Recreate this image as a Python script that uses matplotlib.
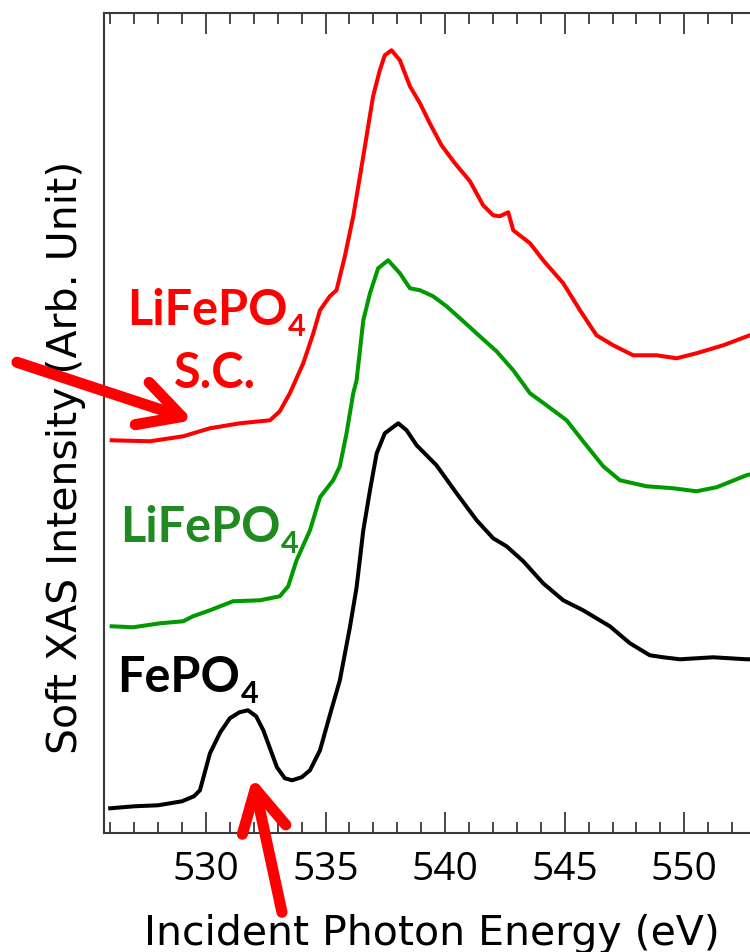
import matplotlib

matplotlib.use("Agg")
import matplotlib.pyplot as plt
from matplotlib.ticker import MultipleLocator, NullLocator

# O K-edge soft XAS (arbitrary units, offset per curve)
energy_fepo4 = [526.0, 527.0, 528.0, 529.0, 529.5, 529.75, 530.17, 530.6, 531.0, 531.4,
                531.76, 532.1, 532.4, 532.97, 533.3, 533.6, 534.0, 534.35, 534.77, 535.18,
                535.6, 536.02, 536.3, 536.58, 536.86, 537.14, 537.48, 538.04, 538.39, 538.81,
                539.64, 540.48, 541.32, 542.01, 542.57, 543.27, 544.1, 544.94, 545.77, 546.89,
                547.73, 548.56, 549.12, 549.82, 551.21, 552.6, 553.5]
intensity_fepo4 = [0.25, 0.27, 0.28, 0.32, 0.37, 0.43, 0.80, 1.01, 1.15, 1.21,
                   1.23, 1.17, 1.03, 0.66, 0.55, 0.53, 0.56, 0.63, 0.83, 1.18,
                   1.53, 2.06, 2.46, 3.03, 3.43, 3.80, 4.00, 4.10, 4.03, 3.88,
                   3.68, 3.40, 3.13, 2.95, 2.87, 2.72, 2.50, 2.33, 2.23, 2.07,
                   1.90, 1.78, 1.76, 1.74, 1.76, 1.74, 1.74]

energy_lifepo4 = [526.06, 526.96, 528.08, 529.05, 529.46, 530.17, 531.13, 532.26, 533.09, 533.44,
                  533.79, 534.35, 534.77, 535.32, 535.6, 535.88, 536.16, 536.3, 536.58, 536.86,
                  537.2, 537.62, 538.11, 538.53, 538.95, 539.5, 540.06, 540.76, 541.45, 542.15,
                  542.85, 543.55, 544.24, 545.08, 545.77, 546.61, 547.31, 548.42, 549.54, 550.51,
                  551.35, 552.6, 553.5]
intensity_lifepo4 = [2.07, 2.06, 2.10, 2.12, 2.17, 2.23, 2.32, 2.33, 2.37, 2.47,
                     2.73, 3.03, 3.36, 3.53, 3.67, 4.00, 4.40, 4.53, 5.13, 5.40,
                     5.65, 5.73, 5.60, 5.45, 5.43, 5.37, 5.27, 5.12, 4.97, 4.82,
                     4.63, 4.40, 4.28, 4.13, 3.92, 3.67, 3.53, 3.47, 3.45, 3.42,
                     3.46, 3.58, 3.63]

energy_lifepo4_sc = [526.06, 527.66, 529.05, 530.17, 531.42, 532.68, 533.09, 533.51, 534.07, 534.49,
                     534.77, 535.18, 535.46, 535.81, 536.16, 536.58, 536.99, 537.27, 537.48, 537.76,
                     538.11, 538.53, 538.95, 539.36, 539.85, 540.41, 541.04, 541.59, 542.01, 542.29,
                     542.64, 542.85, 543.55, 544.1, 544.94, 545.64, 546.33, 547.03, 547.86, 548.84,
                     549.68, 550.51, 551.63, 552.74, 553.5]
intensity_lifepo4_sc = [3.93, 3.92, 3.97, 4.05, 4.10, 4.13, 4.22, 4.40, 4.70, 5.00,
                        5.23, 5.37, 5.43, 5.77, 6.17, 6.77, 7.37, 7.63, 7.78, 7.83,
                        7.73, 7.47, 7.30, 7.10, 6.88, 6.70, 6.52, 6.28, 6.18, 6.17,
                        6.21, 6.03, 5.90, 5.73, 5.50, 5.23, 4.98, 4.88, 4.78, 4.78,
                        4.75, 4.80, 4.88, 4.98, 5.03]

x_range = (525.74, 554.84)
y_range = (0.0, 8.206)

spine_color = "#3a3a3a"
plt.rcParams.update({
    "font.family": ["Open Sans", "DejaVu Sans"],
    "xtick.direction": "in",
    "xtick.top": True,
    "xtick.bottom": True,
    "xtick.major.size": 15,
    "xtick.minor.size": 8,
    "xtick.major.width": 1.3,
    "xtick.minor.width": 1.3,
    "xtick.color": spine_color,
    "xtick.labelcolor": "black",
    "xtick.major.pad": 13,
    "xtick.labelsize": 28,
    "ytick.left": False,
    "ytick.right": False,
})

figure = plt.figure(figsize=(7.5, 9.52), dpi=100)
# axes runs past the right edge, the reference is cropped there
axis = figure.add_axes([0.1387, 0.1247, 0.928, 0.862])

line_width = 2.9
axis.plot(energy_fepo4, intensity_fepo4, color="black", linewidth=line_width)
axis.plot(energy_lifepo4, intensity_lifepo4, color="#009a00", linewidth=line_width)
axis.plot(energy_lifepo4_sc, intensity_lifepo4_sc, color="#ff0000", linewidth=line_width)

axis.set_xlim(*x_range)
axis.set_ylim(*y_range)
axis.xaxis.set_major_locator(MultipleLocator(5))
axis.xaxis.set_minor_locator(MultipleLocator(1))
axis.yaxis.set_major_locator(NullLocator())

for spine in axis.spines.values():
    spine.set_color(spine_color)
    spine.set_linewidth(1.5)

axis_font = ["DejaVu Sans"]
axis.set_xlabel("Incident Photon Energy (eV)", fontsize=29.5, family=axis_font)
axis.xaxis.set_label_coords(0.471, -0.098)
axis.set_ylabel("Soft XAS Intensity (Arb. Unit)", fontsize=29.5, family=axis_font)
axis.yaxis.set_label_coords(-0.026, 0.458)


def formula_label(x, y, body, color):
    main = axis.text(x, y, body, color=color, fontsize=35, fontweight="bold",
                     family=["Lato", "DejaVu Sans"], ha="left", va="baseline")
    axis.annotate("4", xy=(1, 0), xycoords=main, xytext=(0.5, -2),
                  textcoords="offset points", color=color, fontsize=22,
                  fontweight="bold", family=["Lato", "DejaVu Sans"],
                  ha="left", va="baseline")
    return main


formula_label(526.70, 5.08, "LiFePO", "#ff0000")
axis.text(530.36, 4.45, "S.C.", color="#ff0000", fontsize=35, fontweight="bold",
          family=["Lato", "DejaVu Sans"], ha="center", va="baseline")
formula_label(526.40, 2.91, "LiFePO", "#1f8a1f")
formula_label(526.28, 1.41, "FePO", "black")

arrow_props = dict(arrowstyle="->, head_length=3.0, head_width=1.6", color="#ff0000",
                   lw=8, mutation_scale=10, shrinkA=0, shrinkB=0, capstyle="round",
                   joinstyle="round")
axis.annotate("", xy=(529.46, 4.13), xytext=(522.1, 4.71), arrowprops=arrow_props,
              annotation_clip=False)
axis.annotate("", xy=(531.96, 0.56), xytext=(533.18, -0.79), arrowprops=arrow_props,
              annotation_clip=False)

figure.savefig("out.png", dpi=100)
plt.close(figure)
